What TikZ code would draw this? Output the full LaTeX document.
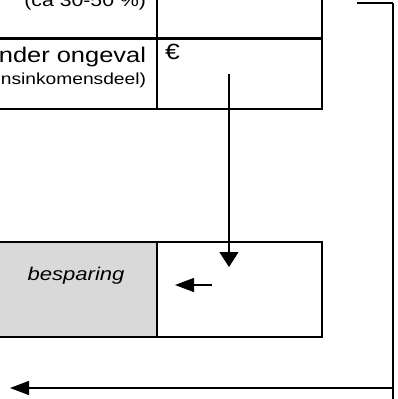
\documentclass[tikz,border=0pt]{standalone}
\usepackage{fontspec}
\setmainfont{Liberation Sans}[FakeStretch=1.2]
\usetikzlibrary{arrows.meta}

\begin{document}
\begin{tikzpicture}[x=1pt, y=-1pt, line width=2pt,
      every node/.append style={inner sep=0pt, outer sep=0pt},
      cell/.style={draw, rectangle, anchor=north west, minimum width=257pt},
      flowh/.style={line width=1.2pt, -{Triangle[length=19pt,width=14pt]}},
      flowv/.style={line width=1.2pt, -{Triangle[length=15pt,width=19pt]}}]
	  \tikzstyle{txt} = [anchor=base east]
	  \useasboundingbox (0,0) rectangle (397,399);
	  % table, cut off at the left and at the top
	  \node (r1l) [cell, minimum height=98pt] at (-100,-60) {};
	  \node (r1r) [cell, minimum width=165pt, minimum height=98pt] at (157,-60) {};
	  \node (r2l) [cell, minimum height=71pt] at (-100,38) {};
	  \node (r2r) [cell, minimum width=165pt, minimum height=71pt] at (157,38) {};
	  \draw[line width=3pt] (r1l.south west) -- (r1r.south east);
	  \node (r3l) [cell, fill=black!15, minimum height=95pt] at (-100,242) {};
	  \node (r3r) [cell, minimum width=165pt, minimum height=95pt] at (157,242) {};
	  % texts
	  \node (pct) [txt, font=\fontsize{17.7}{21}\selectfont] at (146,6) {(ca 30-50 \%)};
	  \node (ongeval) [txt, font=\fontsize{21.2}{26}\selectfont] at (146,62) {nder ongeval};
	  \node (deel) [txt, font=\fontsize{16}{20}\selectfont] at (146,84) {nsinkomensdeel)};
	  \node (eur) [anchor=base west, font=\fontsize{22}{26}\selectfont] at (165,59) {€};
	  \node (besp) [anchor=base, font=\itshape\fontsize{18.4}{22}\selectfont] at (76,280) {besparing};
	  % arrows
	  \coordinate (down1) at (229,74);
	  \coordinate (down2) at (229,267);
	  \draw[flowv] (down1) -- (down2);
	  \coordinate (left1) at (212,285);
	  \coordinate (left2) at (175,285);
	  \draw[flowh] (left1) -- (left2);
	  \coordinate (back1) at (357,3);
	  \coordinate (back2) at (393,3);
	  \coordinate (back3) at (393,399);
	  \coordinate (back4) at (393,388);
	  \coordinate (back5) at (10,388);
	  \draw[line width=1.2pt] (back1) -- (back2);
	  \draw (back2) -- (back3);
	  \draw[flowh] (back4) -- (back5);
	\end{tikzpicture}
\end{document}
